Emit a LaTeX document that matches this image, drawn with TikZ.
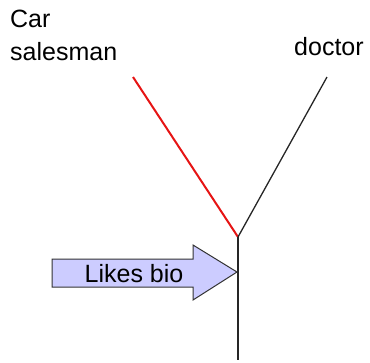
\documentclass[tikz,border=0pt]{standalone}
\usepackage{fontspec}
\setmainfont{Liberation Sans}
\definecolor{arrowfill}{RGB}{204,204,255}
\definecolor{redline}{RGB}{230,20,20}
\begin{document}
\begin{tikzpicture}[x=1pt,y=-1pt,
  lbl/.style={inner sep=0pt, font=\fontsize{25}{33}\selectfont},
  branch/.style={line width=1.3pt, black!85},
  redbranch/.style={line width=2pt, redline},
  arrowbody/.style={draw=black!80, line width=1pt, fill=arrowfill, line join=miter}]
\useasboundingbox (0,0) rectangle (370,362);
\coordinate (J) at (238,237);
\coordinate (carend) at (133,77);
\coordinate (docend) at (327,77);
\coordinate (bottom) at (238,360);
\node[lbl, anchor=north west, align=left] (car) at (10,9.5) {Car\\salesman};
\node[lbl, anchor=base west] (doc) at (294,55) {doctor};
\draw[redbranch] (carend) -- (J);
\draw[branch] (docend) -- (J);
\draw[branch] (J) -- (bottom);
\draw[arrowbody] (52,259) -- (193,259) -- (193,245) -- (237,272) -- (193,300) -- (193,287) -- (52,287) -- cycle;
\node[lbl, anchor=base] (likes) at (134,282) {Likes bio};
\end{tikzpicture}
\end{document}
